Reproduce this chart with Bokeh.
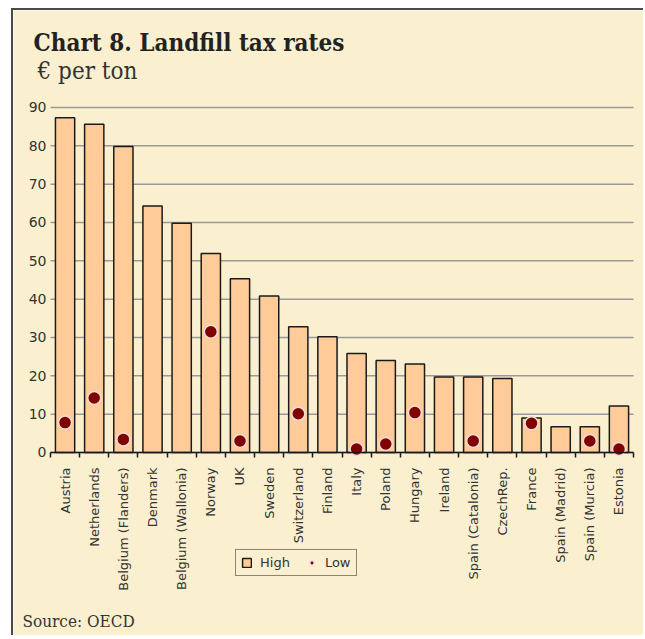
from bokeh.plotting import figure
from bokeh.models import Range1d, FixedTicker, Label, Legend, LegendItem, LinearAxis
from bokeh.embed import file_html
from bokeh.resources import INLINE

countries = ["Austria", "Netherlands", "Belgium (Flanders)", "Denmark", "Belgium (Wallonia)",
             "Norway", "UK", "Sweden", "Switzerland", "Finland", "Italy", "Poland", "Hungary",
             "Ireland", "Spain (Catalonia)", "CzechRep.", "France", "Spain (Madrid)",
             "Spain (Murcia)", "Estonia"]
high = [87.3, 85.6, 79.8, 64.3, 59.8, 51.9, 45.3, 40.8, 32.8, 30.2, 25.8, 24.0, 23.1,
        19.7, 19.7, 19.3, 9.0, 6.7, 6.7, 12.1]
low = [7.8, 14.2, 3.4, None, None, 31.5, 3.0, None, 10.1, None, 0.9, 2.2, 10.4,
       None, 3.0, None, 7.6, None, 3.0, 0.9]
y_ticks = [0, 10, 20, 30, 40, 50, 60, 70, 80, 90]

BG = "#FAF0D0"
SERIF = "DejaVu Serif Condensed"
n = len(countries)
idx = list(range(n))
lx = [i for i, v in zip(idx, low) if v is not None]
ly = [v for v in low if v is not None]

W, H = 632, 627
p = figure(width=W, height=H, output_backend="svg", toolbar_location=None,
           x_range=Range1d(-1.769, 19.91), y_range=Range1d(-48.27, 115.3),
           x_axis_type=None, y_axis_type=None,
           min_border_left=0, min_border_right=0, min_border_top=0, min_border_bottom=0,
           background_fill_color=BG, border_fill_color=BG, outline_line_color=None)
p.styles = {"margin-left": "11px", "margin-top": "8px",
            "border-left": "2px solid #4a4a4a", "border-top": "2px solid #4a4a4a"}
p.xgrid.visible = False
p.ygrid.visible = False

# horizontal gridlines across the category span
p.segment(x0=[-0.5] * len(y_ticks), x1=[n - 0.5] * len(y_ticks), y0=y_ticks, y1=y_ticks,
          line_color="#9A9A9A", line_width=1.5)

bars = p.vbar(x=idx, top=high, width=0.66, fill_color="#FFCC99", line_color="#1a1a1a",
              line_width=1.5)
dots = p.scatter(x=lx, y=ly, size=13, fill_color="#800000", line_color="#F2DCDC",
                 line_width=1.5)

xaxis = LinearAxis(fixed_location=0, bounds=(-0.5, n - 0.5))
xaxis.ticker = FixedTicker(ticks=idx, minor_ticks=[i - 0.5 for i in idx] + [n - 0.5])
xaxis.major_label_overrides = {i: c for i, c in enumerate(countries)}
xaxis.major_label_orientation = 1.5708
xaxis.major_tick_line_color = None
xaxis.minor_tick_line_color = "#1a1a1a"
xaxis.minor_tick_line_width = 1.5
xaxis.minor_tick_out = 5
xaxis.minor_tick_in = 0
xaxis.axis_line_color = "#1a1a1a"
xaxis.axis_line_width = 1.5
xaxis.major_label_standoff = 9
xaxis.major_label_text_font = "DejaVu Sans"
xaxis.major_label_text_font_size = "13px"
xaxis.major_label_text_color = "#333333"
p.add_layout(xaxis, "below")

yaxis = LinearAxis(fixed_location=-0.5, bounds=(0, 90))
yaxis.ticker = FixedTicker(ticks=y_ticks)
yaxis.axis_line_color = None
yaxis.major_tick_line_color = None
yaxis.major_tick_out = 0
yaxis.major_tick_in = 0
yaxis.minor_tick_line_color = None
yaxis.major_label_standoff = 4
yaxis.major_label_text_font = "DejaVu Sans"
yaxis.major_label_text_font_size = "14px"
yaxis.major_label_text_color = "#333333"
p.add_layout(yaxis, "left")

legend = Legend(items=[LegendItem(label="High", renderers=[bars]),
                       LegendItem(label="Low", renderers=[dots])],
                location=(222, 61), orientation="horizontal",
                background_fill_color=BG, background_fill_alpha=1,
                border_line_color="#1a1a1a", border_line_width=1.5,
                label_text_font="DejaVu Sans", label_text_font_size="13px",
                label_text_color="#333333", glyph_width=11, glyph_height=11,
                label_height=12, padding=5, spacing=16, label_standoff=8, margin=0)
p.add_layout(legend, "center")

p.add_layout(Label(x=20, y=595, x_units="screen", y_units="screen",
                   text="Chart 8. Landfill tax rates", text_font=SERIF,
                   text_font_style="bold", text_font_size="24px", text_color="#222222",
                   text_baseline="alphabetic"))
p.add_layout(Label(x=24, y=567, x_units="screen", y_units="screen",
                   text="€ per ton", text_font=SERIF,
                   text_font_size="24px", text_color="#333333",
                   text_baseline="alphabetic"))
p.add_layout(Label(x=9, y=17, x_units="screen", y_units="screen",
                   text="Source: OECD", text_font=SERIF,
                   text_font_size="17px", text_color="#333333",
                   text_baseline="alphabetic"))

open("out.html", "w").write(file_html(p, INLINE))
